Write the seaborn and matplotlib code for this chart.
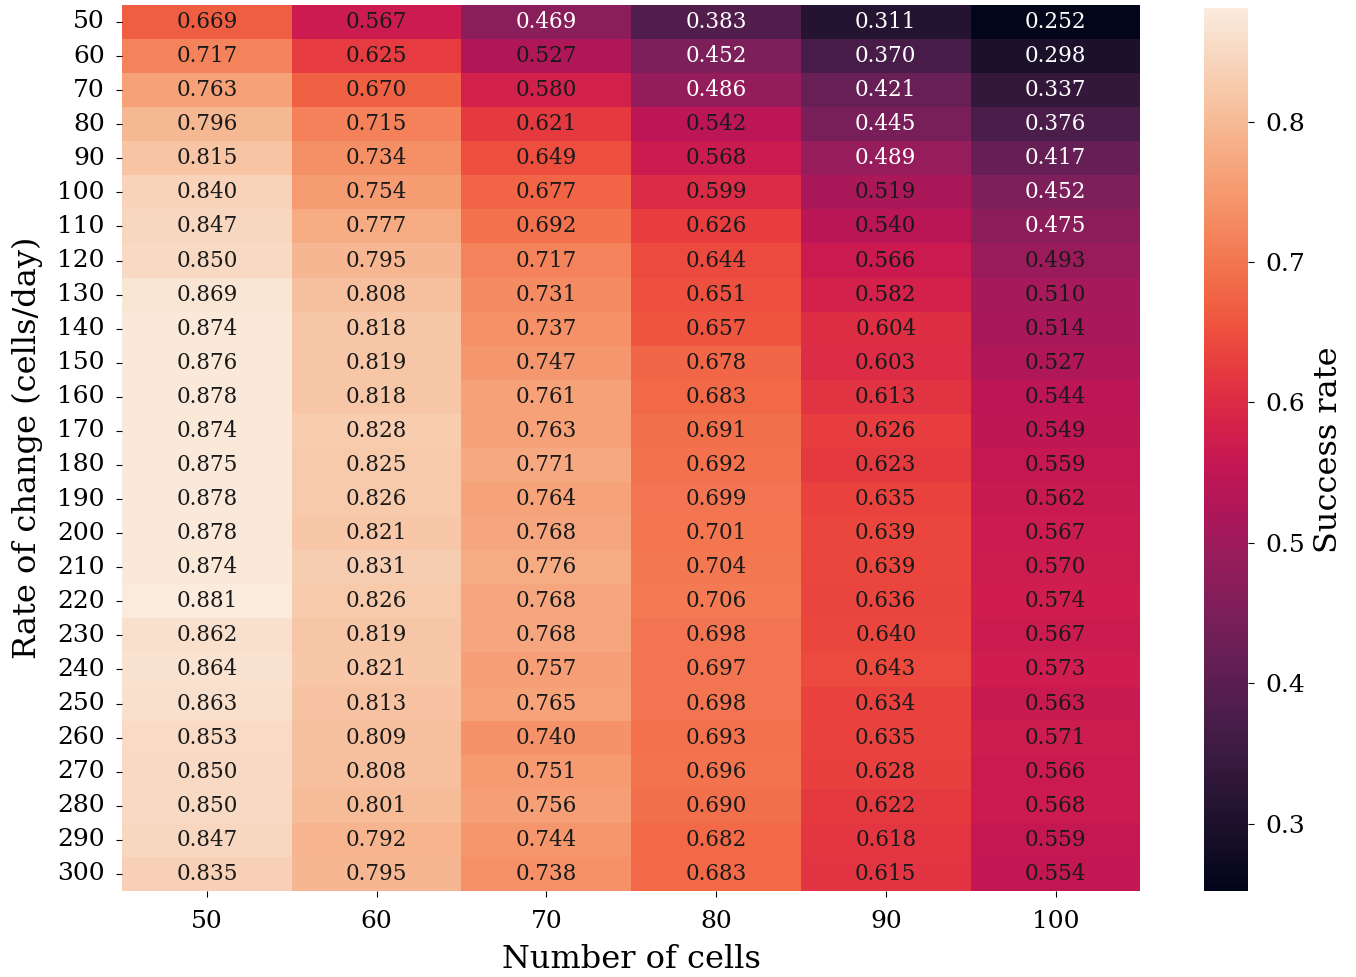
import numpy as np
import pandas as pd
import matplotlib
matplotlib.use("Agg")
import matplotlib.pyplot as plt
import seaborn as sns

# Grid of parameters
n_cells = [50, 60, 70, 80, 90, 100]
rates = [50, 60, 70, 80, 90, 100, 110, 120, 130, 140, 150, 160, 170,
         180, 190, 200, 210, 220, 230, 240, 250, 260, 270, 280, 290, 300]

# Success rate per number of cells (one list per column)
cells_50 = [0.669, 0.717, 0.763, 0.796, 0.815, 0.840, 0.847, 0.850, 0.869,
            0.874, 0.876, 0.878, 0.874, 0.875, 0.878, 0.878, 0.874, 0.881,
            0.862, 0.864, 0.863, 0.853, 0.850, 0.850, 0.847, 0.835]
cells_60 = [0.567, 0.625, 0.670, 0.715, 0.734, 0.754, 0.777, 0.795, 0.808,
            0.818, 0.819, 0.818, 0.828, 0.825, 0.826, 0.821, 0.831, 0.826,
            0.819, 0.821, 0.813, 0.809, 0.808, 0.801, 0.792, 0.795]
cells_70 = [0.469, 0.527, 0.580, 0.621, 0.649, 0.677, 0.692, 0.717, 0.731,
            0.737, 0.747, 0.761, 0.763, 0.771, 0.764, 0.768, 0.776, 0.768,
            0.768, 0.757, 0.765, 0.740, 0.751, 0.756, 0.744, 0.738]
cells_80 = [0.383, 0.452, 0.486, 0.542, 0.568, 0.599, 0.626, 0.644, 0.651,
            0.657, 0.678, 0.683, 0.691, 0.692, 0.699, 0.701, 0.704, 0.706,
            0.698, 0.697, 0.698, 0.693, 0.696, 0.690, 0.682, 0.683]
cells_90 = [0.311, 0.370, 0.421, 0.445, 0.489, 0.519, 0.540, 0.566, 0.582,
            0.604, 0.603, 0.613, 0.626, 0.623, 0.635, 0.639, 0.639, 0.636,
            0.640, 0.643, 0.634, 0.635, 0.628, 0.622, 0.618, 0.615]
cells_100 = [0.252, 0.298, 0.337, 0.376, 0.417, 0.452, 0.475, 0.493, 0.510,
             0.514, 0.527, 0.544, 0.549, 0.559, 0.562, 0.567, 0.570, 0.574,
             0.567, 0.573, 0.563, 0.571, 0.566, 0.568, 0.559, 0.554]

df = pd.DataFrame(
    np.array([cells_50, cells_60, cells_70, cells_80, cells_90, cells_100]).T,
    index=rates, columns=n_cells)

plt.rcParams['font.family'] = 'DejaVu Serif'

fig = plt.figure(figsize=(13.56, 9.77), dpi=100)
ax = fig.add_axes([0.09, 0.088, 0.751, 0.907])
cax = fig.add_axes([0.888, 0.088, 0.032, 0.904])

sns.heatmap(df, annot=True, fmt='.3f', ax=ax, cbar_ax=cax, cmap='rocket',
            annot_kws={'size': 15.5},
            cbar_kws={'label': 'Success rate'})

# only the darkest cells get white annotations
for txt, v in zip(ax.texts, df.values.ravel()):
    txt.set_color('.1' if v > 0.49 else 'white')

ax.set_xlabel('Number of cells', fontsize=23, labelpad=8)
ax.set_ylabel('Rate of change (cells/day)', fontsize=23, labelpad=10)
ax.tick_params(axis='both', labelsize=18, length=4.5)
ax.tick_params(axis='y', pad=8)
ax.tick_params(axis='x', pad=9)
plt.setp(ax.get_yticklabels(), rotation=0)
cax.tick_params(labelsize=18, length=4.5, pad=8)
cax.set_ylabel('Success rate', fontsize=23, labelpad=6)

fig.savefig('out.png', dpi=100)
